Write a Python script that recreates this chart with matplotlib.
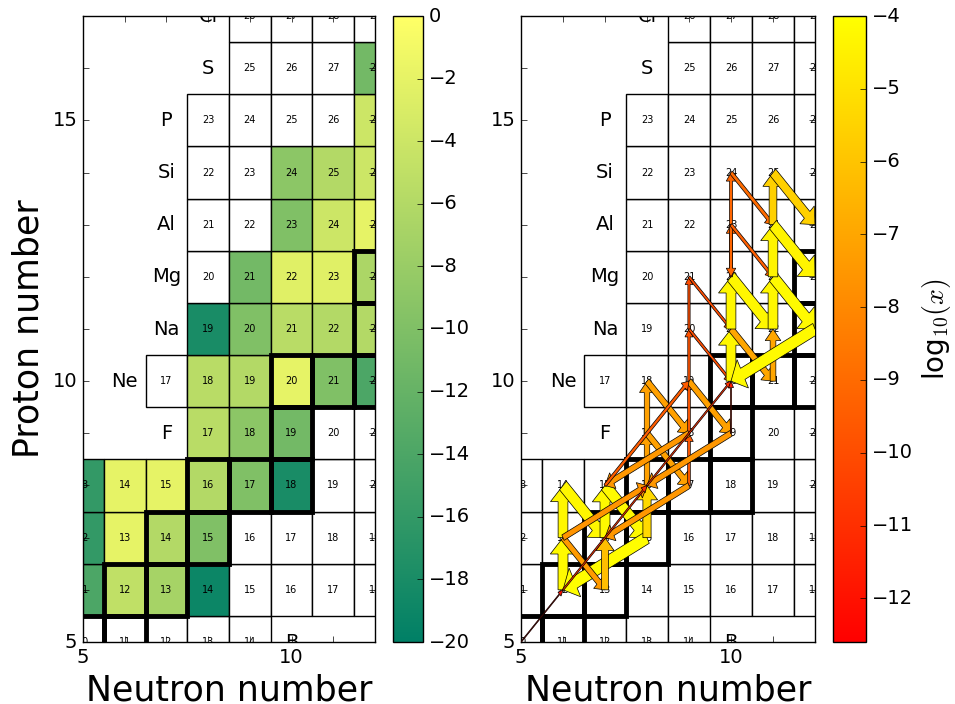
import matplotlib.pyplot as plt
import matplotlib.colors as mcolors
from matplotlib.patches import Rectangle
from matplotlib.cm import ScalarMappable

plt.style.use('classic')
plt.rcParams['figure.facecolor'] = 'white'
plt.rcParams['savefig.facecolor'] = 'white'

# rows of the nuclide chart: proton number, element, first/last neutron number, label position
row_z = [5, 6, 7, 8, 9, 10, 11, 12, 13, 14, 15, 16, 17]
row_names = ['B', 'C', 'N', 'O', 'F', 'Ne', 'Na', 'Mg', 'Al', 'Si', 'P', 'S', 'Cl']
row_nmin = [3, 3, 3, 4, 8, 7, 8, 8, 8, 8, 8, 9, 9]
row_nmax = [9, 13, 13, 13, 13, 13, 13, 13, 13, 13, 13, 13, 13]
row_label_n = [10, 2, 2, 3, 7, 6, 7, 7, 7, 7, 7, 8, 8]

# log10 abundance of the coloured cells (left panel)
abund_n = [5, 6, 7, 8,
           5, 6, 7, 8,
           5, 6, 7, 8, 9, 10,
           8, 9, 10,
           8, 9, 10, 11, 12,
           8, 9, 10, 11, 12,
           9, 10, 11, 12,
           10, 11, 12,
           10, 11, 12,
           12, 12]
abund_z = [6, 6, 6, 6,
           7, 7, 7, 7,
           8, 8, 8, 8, 8, 8,
           9, 9, 9,
           10, 10, 10, 10, 10,
           11, 11, 11, 11, 11,
           12, 12, 12, 12,
           13, 13, 13,
           14, 14, 14,
           15, 16]
abund_log = [-14, -5, -7, -19,
             -16, -2, -6, -10,
             -16, -2, -2, -6, -10, -18,
             -5.5, -9, -11,
             -5.5, -6, -2, -10, -14,
             -18, -10, -5.5, -6, -6,
             -11, -2.5, -2.5, -6.5,
             -10, -4, -2,
             -9, -6, -4,
             -4, -11]

# stable nuclei (thick boxes)
stable_n = [5, 6, 6, 7, 7, 8, 8, 9, 10, 10, 10, 11, 12, 12, 12, 13, 14]
stable_z = [5, 5, 6, 6, 7, 7, 8, 8, 8, 9, 10, 10, 10, 11, 12, 12, 12]

# reaction flows (right panel): from (N, Z) to (N, Z), log10 of flow
flow_n0 = [6, 6, 6, 7, 7, 8, 6, 7, 8, 8, 8, 8, 8, 9, 9, 9, 9, 9, 9, 10, 6, 7, 6, 8, 4, 10,
           9, 9, 9, 10, 10, 11, 10, 10, 11, 11, 12, 10, 10, 10, 10, 10, 11, 11, 11, 11]
flow_z0 = [6, 7, 8, 7, 8, 7, 7, 6, 7, 8, 9, 10, 9, 8, 9, 10, 10, 9, 8, 9, 7, 8, 6, 8, 4, 9,
           11, 11, 12, 10, 11, 10, 11, 12, 11, 12, 11, 12, 13, 13, 13, 14, 12, 13, 13, 14]
flow_n1 = [6, 6, 7, 7, 8, 6, 7, 7, 8, 8, 8, 9, 9, 9, 9, 9, 10, 7, 7, 8, 8, 9, 8, 10, 6, 10,
           10, 9, 10, 10, 11, 11, 10, 11, 11, 12, 10, 10, 10, 10, 11, 11, 11, 11, 12, 12]
flow_z1 = [7, 8, 7, 8, 7, 6, 6, 7, 8, 9, 10, 9, 8, 9, 10, 11, 9, 8, 7, 8, 8, 10, 8, 10, 6, 10,
           10, 12, 11, 11, 10, 11, 12, 11, 12, 11, 10, 13, 12, 14, 12, 13, 13, 14, 12, 13]
flow_log = [-4.2, -4.3, -4.3, -4.2, -4.2, -4.1, -7.4, -6.2, -5.3, -7.2, -7.2, -7.2, -7.2,
            -9.6, -9.6, -9.8, -7.2, -7.5, -7.5, -7.5, -7.6, -9.5, -11.0, -11.0, -12.0, -11.5,
            -10.0, -10.0, -10.0, -4.3, -7.0, -7.0, -4.3, -4.3, -4.3, -4.2, -4.2,
            -9.2, -9.2, -9.2, -9.4, -9.0, -4.4, -5.6, -4.4, -5.6]

NMIN, NMAX = 5, 12
ZMIN, ZMAX = 5, 17


def draw_chart(ax, colour_cells, cmap=None, norm=None):
    colours = {}
    if colour_cells:
        for n, z, v in zip(abund_n, abund_z, abund_log):
            colours[(n, z)] = cmap(norm(v))
    for z, name, n0, n1, nl in zip(row_z, row_names, row_nmin, row_nmax, row_label_n):
        for n in range(n0, n1 + 1):
            fc = colours.get((n, z), 'white')
            ax.add_patch(Rectangle((n - 0.5, z - 0.5), 1, 1, facecolor=fc,
                                   edgecolor='k', linewidth=1.0, zorder=1))
            ax.text(n, z, str(n + z), ha='center', va='center', fontsize=7,
                    clip_on=True, zorder=2)
        ax.text(nl, z, name, ha='center', va='center', fontsize=14,
                clip_on=True, zorder=2)
    for n, z in zip(stable_n, stable_z):
        ax.add_patch(Rectangle((n - 0.5, z - 0.5), 1, 1, fill=False,
                               edgecolor='k', linewidth=3.5, zorder=3))
    ax.set_xlim(NMIN, NMAX)
    ax.set_ylim(ZMIN, ZMAX)
    ax.set_xticks(range(NMIN, NMAX + 1))
    ax.set_xticklabels([str(n) if n % 5 == 0 else '' for n in range(NMIN, NMAX + 1)])
    ax.set_yticks(range(ZMIN, ZMAX + 1))
    ax.set_yticklabels([str(z) if z % 5 == 0 else '' for z in range(ZMIN, ZMAX + 1)])
    ax.tick_params(labelsize=14)
    ax.set_xlabel('Neutron number', fontsize=25)


def draw_flows(ax, cmap, norm):
    # arrow width grows with the flow
    for n0, z0, n1, z1, v in zip(flow_n0, flow_z0, flow_n1, flow_z1, flow_log):
        s = (v - norm.vmin) / (norm.vmax - norm.vmin)
        w = 0.015 + 0.23 * s ** 1.5
        ax.arrow(n0, z0, n1 - n0, z1 - z0, width=w, head_width=2.3 * w + 0.06,
                 head_length=0.1 + 0.9 * w, length_includes_head=True,
                 facecolor=cmap(norm(v)), edgecolor='k', linewidth=0.5, zorder=5)


def main():
    fig = plt.figure(figsize=(9.55, 7.04), dpi=100)
    y0, h = 62 / 704, 626 / 704
    ax1 = fig.add_axes([83 / 955, y0, 292 / 955, h])
    cax1 = fig.add_axes([393 / 955, y0, 30 / 955, h])
    ax2 = fig.add_axes([521 / 955, y0, 294 / 955, h])
    cax2 = fig.add_axes([833 / 955, y0, 33 / 955, h])

    cmap1 = plt.get_cmap('summer')
    norm1 = mcolors.Normalize(vmin=-20, vmax=0)
    draw_chart(ax1, True, cmap1, norm1)
    ax1.set_ylabel('Proton number', fontsize=25)
    cb1 = fig.colorbar(ScalarMappable(norm=norm1, cmap=cmap1), cax=cax1)
    cb1.set_ticks(range(-20, 1, 2))
    cb1.ax.tick_params(labelsize=14)

    cmap2 = plt.get_cmap('autumn')
    norm2 = mcolors.Normalize(vmin=-12.6, vmax=-4)
    draw_chart(ax2, False)
    draw_flows(ax2, cmap2, norm2)
    cb2 = fig.colorbar(ScalarMappable(norm=norm2, cmap=cmap2), cax=cax2)
    cb2.set_ticks(range(-12, -3))
    cb2.ax.tick_params(labelsize=14)
    cb2.set_label(r'log$_{10}(x)$', fontsize=20)

    fig.savefig('out.png', dpi=100)


if __name__ == '__main__':
    main()
